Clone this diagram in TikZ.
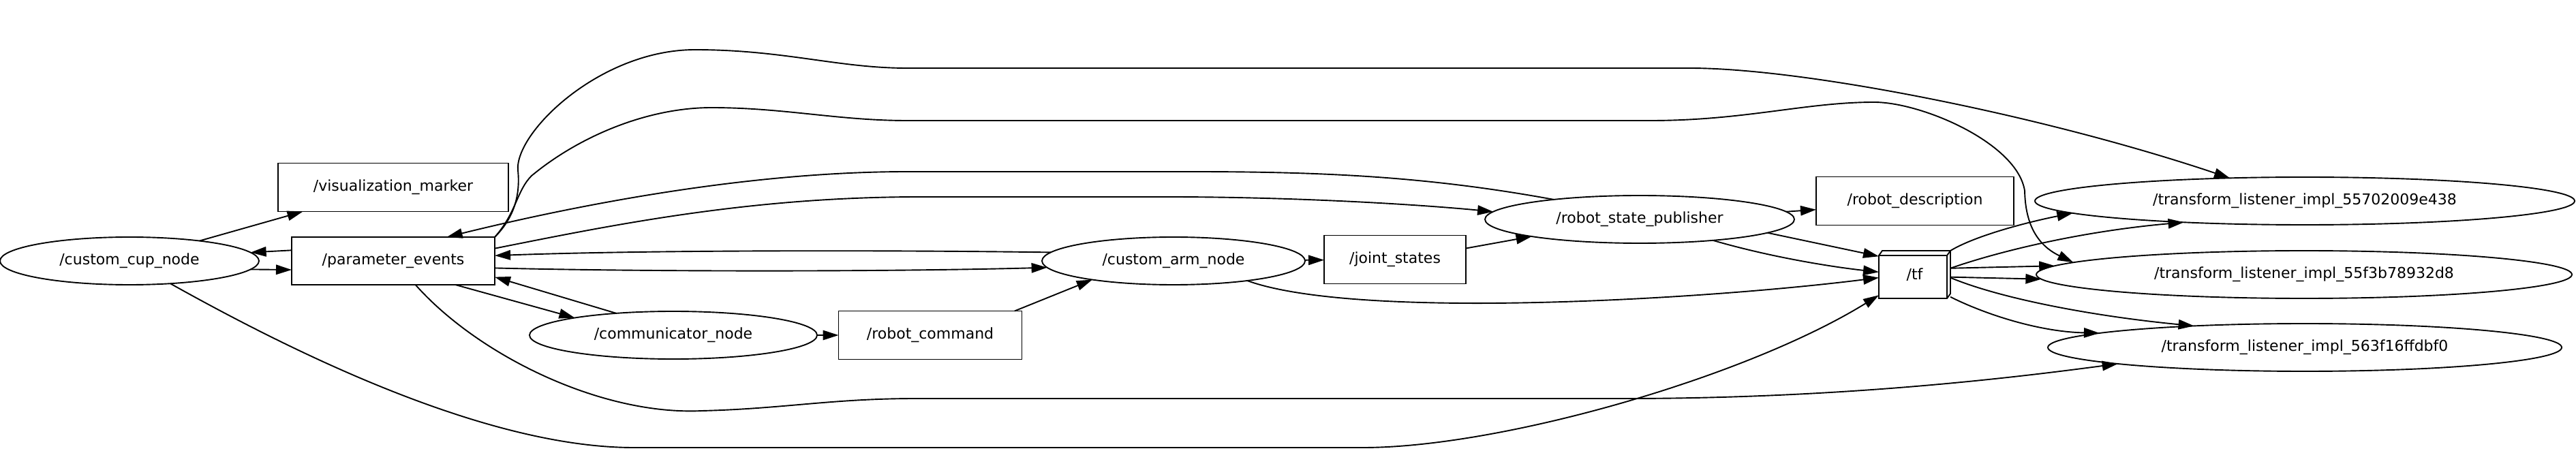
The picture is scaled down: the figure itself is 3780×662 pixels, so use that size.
\documentclass[tikz,border=0pt]{standalone}
\usepackage{fontspec}
\setmainfont{DejaVu Sans}
\usetikzlibrary{arrows.meta,shapes.geometric}
\begin{document}
\begin{tikzpicture}[x=.5pt,y=-.5pt,font=\fontsize{11}{13}\selectfont,line width=.95pt,
 >={Triangle[length=11.5pt,width=7.2pt]},
 rosnode/.style={draw,ellipse,inner sep=0pt,outer sep=0pt,minimum height=35pt},
 rostopic/.style={draw,rectangle,inner sep=0pt,outer sep=0pt,minimum height=35.5pt},
 tfbox/.style={rectangle,inner sep=0pt,outer sep=0pt,minimum width=52.5pt,minimum height=35pt}]
\useasboundingbox (0,0) rectangle (3780,662);
\node[rosnode,minimum width=190pt] (cup) at (190,383) {/custom\_cup\_node};
\node[rostopic,minimum width=169pt] (viz) at (577,275) {/visualization\_marker};
\node[rostopic,minimum width=149pt,minimum height=35pt] (param) at (577,383) {/parameter\_events};
\node[rosnode,minimum width=211pt] (comm) at (988,492) {/communicator\_node};
\node[rostopic,minimum width=134.5pt] (rcmd) at (1365,492) {/robot\_command};
\node[rosnode,minimum width=193pt] (arm) at (1722,383) {/custom\_arm\_node};
\node[rostopic,minimum width=104pt] (joint) at (2047,381) {/joint\_states};
\node[rosnode,minimum width=227pt] (rsp) at (2406,322) {/robot\_state\_publisher};
\node[rostopic,minimum width=145pt] (rdesc) at (2810,295) {/robot\_description};
\node[tfbox] (tf) at (2809.5,403) {/tf};
\node[rosnode,minimum width=396pt] (lsa) at (3382,295) {/transform\_listener\_impl\_55702009e438};
\node[rosnode,minimum width=393pt] (lsb) at (3381,403) {/transform\_listener\_impl\_55f3b78932d8};
\node[rosnode,minimum width=377pt] (lsc) at (3382,510) {/transform\_listener\_impl\_563f16ffdbf0};
\draw (tf.south west) -- ([yshift=-3.5pt]tf.north west) -- ([xshift=2.5pt]tf.north west) -- (tf.north east)
 -- ([yshift=3.5pt]tf.south east) -- ([xshift=-2.5pt]tf.south east) -- cycle
 ([yshift=-3.5pt]tf.north west) -- ([xshift=-2.5pt,yshift=-3.5pt]tf.north east) -- ([xshift=-2.5pt]tf.south east)
 ([xshift=-2.5pt,yshift=-3.5pt]tf.north east) -- (tf.north east);
\draw[->] (cup.16) -- (viz.-165);
\draw[->] (param.174.6) -- (cup.4.6);
\draw[->] (cup.-4.2) -- (param.-175);
\draw[->] (cup.-29.4) .. controls (400,500) and (700,657) .. (930,657) -- (2000,657) .. controls (2200,657) and (2560,555) .. (tf.210);
\draw[->] (param.-21) -- (comm.170.3);
\draw[->] (comm.159) -- (param.-9.5);
\draw[->] (comm) -- (rcmd);
\draw[->] (rcmd.16.5) -- (arm.193.4);
\draw[->] (param.-4) .. controls (950,399) and (1300,399) .. (arm.183.4);
\draw[->] (arm.176.6) .. controls (1300,367) and (950,367) .. (param.3.8);
\draw[->] (arm) -- (joint);
\draw[->] (arm.-15) .. controls (1990,470) and (2500,440) .. (tf.185.4);
\draw[->] (joint.9.3) -- (rsp.-171.1);
\draw[->] (param.7.3) .. controls (900,330) and (1100,289) .. (1350,289) -- (1714,289) .. controls (1900,289) and (2080,300) .. (rsp.177.7);
\draw[->] (rsp.167.5) .. controls (2100,260) and (1950,252) .. (1750,252) -- (1331,252) .. controls (1100,252) and (850,300) .. (param.24.2);
\draw[->] (rsp.3.5) -- (rdesc.-175.7);
\draw[->] (rsp.-6.65) -- (tf.153.6);
\draw[->] (rsp.-16.6) .. controls (2600,378) and (2690,392) .. (tf.176.7);
\draw[->] (param.north east) .. controls (752,322) and (764,290) .. (760,250) .. controls (755,195) and (880,73) .. (1020,73)
 .. controls (1150,73) and (1230,100) .. (1331,100) -- (2479,100) .. controls (2650,100) and (3000,170) .. (lsa.163.3);
\draw[->] (param.north east) .. controls (758,312) and (758,280) .. (780,258) .. controls (850,200) and (950,158) .. (1044,158)
 .. controls (1150,158) and (1230,177) .. (1331,177) -- (2422,177) .. controls (2560,177) and (2650,150) .. (2750,150)
 .. controls (2820,150) and (2960,210) .. (2971,280) .. controls (2972,330) and (2990,360) .. (lsb.177.1);
\draw[->] (param.-47.6) .. controls (700,520) and (880,610) .. (1030,603) .. controls (1150,600) and (1220,585) .. (1344,585)
 -- (2385,585) .. controls (2700,585) and (2950,555) .. (lsc.185.8);
\draw[->] (tf.north east) .. controls (2900,345) and (2980,325) .. (lsa.183.6);
\draw[->] (tf.10.8) .. controls (2930,370) and (3050,340) .. (lsa.190.4);
\draw[->] (tf.10) -- (lsb.178);
\draw[->] (tf.-4.4) -- (lsb.181.9);
\draw[->] (tf.-5.5) .. controls (2940,440) and (3080,465) .. (lsc.169.2);
\draw[->] (tf.-32.9) .. controls (2910,460) and (2990,487) .. (lsc.176.5);
\end{tikzpicture}
\end{document}
